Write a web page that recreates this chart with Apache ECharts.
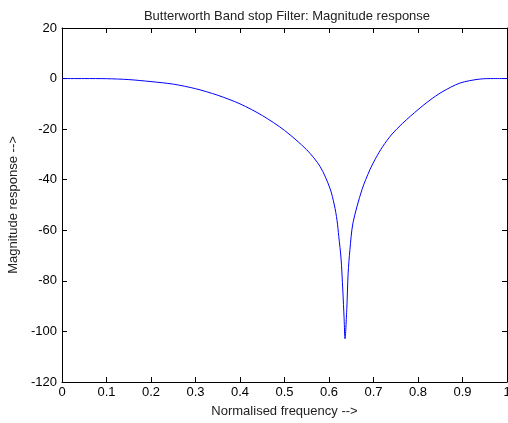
<!DOCTYPE html>
<html>
<head>
<meta charset="utf-8">
<script src="https://cdn.jsdelivr.net/npm/echarts@6/dist/echarts.min.js"></script>
<style>
  html, body { margin: 0; padding: 0; background: #fff; }
  #chart { width: 508px; height: 423px; }
</style>
</head>
<body>
<div id="chart"></div>
<script>
// normalised frequency and magnitude (dB)
const freq = [0, 0.05, 0.1, 0.15, 0.2, 0.25, 0.3, 0.35, 0.4, 0.45, 0.5, 0.55, 0.58, 0.602,
  0.612, 0.618, 0.622, 0.627, 0.631, 0.634, 0.636, 0.64, 0.643, 0.647, 0.654, 0.674, 0.692,
  0.705, 0.721, 0.74, 0.766, 0.8, 0.827, 0.854, 0.894, 0.939, 0.97, 1];
const mag = [0, 0, -0.05, -0.4, -1.2, -2.2, -4.0, -6.6, -10.0, -14.6, -20.5, -28.2, -34.8, -43.3,
  -50, -56, -62.5, -71, -83.6, -95, -102.9, -91, -77, -67.7, -57, -44, -36,
  -31.5, -26.8, -22.3, -17.6, -12.3, -8.5, -5.3, -1.8, -0.2, 0, 0];
const yTicks = [-120, -100, -80, -60, -40, -20, 0, 20];

const chart = echarts.init(document.getElementById("chart"));
const font = "Liberation Sans, Arial, sans-serif";
const boxAxis = {
  axisLine: { show: true, onZero: false, lineStyle: { color: "#000", width: 1 } },
  axisTick: { show: true, inside: true, length: 5, lineStyle: { color: "#000" } },
  splitLine: { show: false },
};

chart.setOption({
  animation: false,
  title: {
    text: "Butterworth Band stop Filter: Magnitude response",
    left: 282,
    textAlign: "center",
    top: 5,
    textStyle: { fontSize: 13, fontWeight: "normal", color: "#222", fontFamily: font },
  },
  grid: { left: 62, right: 1, top: 28, bottom: 41, containLabel: false, outerBoundsMode: "none" },
  xAxis: [
    {
      type: "value", min: 0, max: 1, interval: 0.1,
      name: "Normalised frequency -->", nameLocation: "middle", nameGap: 23,
      nameTextStyle: { fontSize: 13, color: "#222", fontFamily: font },
      axisLabel: { fontSize: 13, color: "#000", fontFamily: font, margin: 4,
        formatter: (v) => String(Math.round(v * 10) / 10) },
      ...boxAxis,
    },
    {
      type: "value", min: 0, max: 1, interval: 0.1, position: "top",
      axisLabel: { show: false }, ...boxAxis,
    },
  ],
  yAxis: [
    {
      type: "value", min: yTicks[0], max: yTicks[yTicks.length - 1], interval: 20,
      name: "Magnitude response -->", nameLocation: "middle", nameGap: 40,
      nameTextStyle: { fontSize: 13, color: "#222", fontFamily: font },
      axisLabel: { fontSize: 13, color: "#000", fontFamily: font, margin: 5 },
      ...boxAxis,
    },
    {
      type: "value", min: -120, max: 20, interval: 20, position: "right",
      axisLabel: { show: false }, ...boxAxis,
    },
  ],
  series: [
    {
      type: "line",
      xAxisIndex: 0,
      yAxisIndex: 0,
      data: freq.map((f, i) => [f, mag[i]]),
      showSymbol: false,
      smooth: 0.3,
      lineStyle: { color: "#0000ff", width: 1 },
      itemStyle: { color: "#0000ff" },
    },
  ],
});
</script>
</body>
</html>
